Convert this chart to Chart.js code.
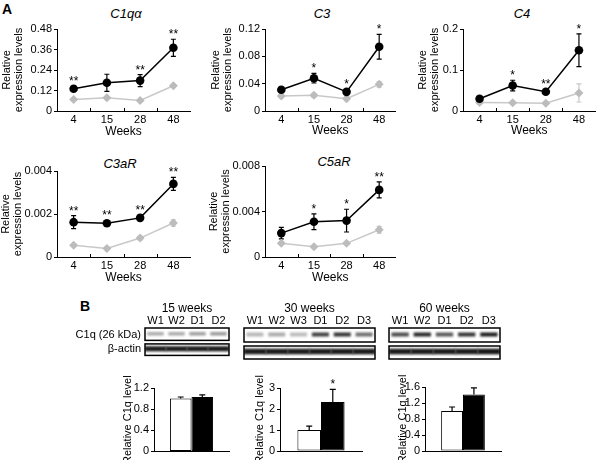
<!DOCTYPE html>
<html>
<head>
<meta charset="utf-8">
<script src="https://cdn.jsdelivr.net/npm/chart.js@4.4.1/dist/chart.umd.min.js"></script>
<style>
  html, body { margin: 0; padding: 0; background: #fff; }
  #fig { position: relative; width: 600px; height: 460px; overflow: hidden;
         font-family: "Liberation Sans", Arial, sans-serif; color: #000; background: #fff; }
  #fig canvas { position: absolute; }
  .lbl { position: absolute; transform: translate(-50%, -50%); line-height: 1; white-space: nowrap; }
  .gene { font-style: italic; font-size: 13px; }
  .panel { font-weight: bold; font-size: 14px; }
</style>
</head>
<body>
<div id="fig">
  <div class="lbl panel" style="left:7px;top:9px">A</div>
  <div class="lbl panel" style="left:85px;top:306px">B</div>
  <div class="lbl gene" style="left:126px;top:13px">C1qα</div>
  <div class="lbl gene" style="left:322px;top:13px">C3</div>
  <div class="lbl gene" style="left:522px;top:13px">C4</div>
  <div class="lbl gene" style="left:120px;top:163px">C3aR</div>
  <div class="lbl gene" style="left:334px;top:161px">C5aR</div>

  <canvas id="cC1q" width="200" height="150" style="left:0;top:0"></canvas>
  <canvas id="cC3" width="200" height="150" style="left:200px;top:0"></canvas>
  <canvas id="cC4" width="200" height="150" style="left:400px;top:0"></canvas>
  <canvas id="cC3aR" width="200" height="150" style="left:0;top:150px"></canvas>
  <canvas id="cC5aR" width="200" height="150" style="left:200px;top:150px"></canvas>

  <canvas id="cBlot15" width="175" height="68" style="left:60px;top:298px"></canvas>
  <canvas id="cBlot30" width="140" height="68" style="left:240px;top:298px"></canvas>
  <canvas id="cBlot60" width="120" height="68" style="left:385px;top:298px"></canvas>

  <canvas id="cB15" width="135" height="90" style="left:100px;top:370px"></canvas>
  <canvas id="cB30" width="140" height="90" style="left:230px;top:370px"></canvas>
  <canvas id="cB60" width="135" height="90" style="left:375px;top:370px"></canvas>
</div>
<script>
// ---- data (A: mRNA, black = db/db, grey = control) ----
const weeks = ['4', '15', '28', '48'];

const c1qDb = [0.13, 0.165, 0.178, 0.37];
const c1qDbErr = [0.01, 0.05, 0.035, 0.05];
const c1qWt = [0.068, 0.078, 0.062, 0.148];
const c1qWtErr = [0.006, 0.008, 0.005, 0.008];
const c1qStars = ['**', '', '**', '**'];
const c1qTicks = ['0', '0.12', '0.24', '0.36', '0.48'];

const c3Db = [0.031, 0.048, 0.028, 0.094];
const c3DbErr = [0.003, 0.007, 0.003, 0.018];
const c3Wt = [0.022, 0.023, 0.018, 0.039];
const c3WtErr = [0.003, 0.003, 0.003, 0.004];
const c3Stars = ['', '*', '*', '*'];
const c3Ticks = ['0', '0.04', '0.08', '0.12'];

const c4Db = [0.03, 0.062, 0.047, 0.148];
const c4DbErr = [0.005, 0.013, 0.004, 0.04];
const c4Wt = [0.021, 0.02, 0.019, 0.044];
const c4WtErr = [0.003, 0.003, 0.003, 0.022];
const c4Stars = ['', '*', '**', '*'];
const c4Ticks = ['0', '0.1', '0.2'];

const c3aRDb = [0.00162, 0.00157, 0.00182, 0.0034];
const c3aRDbErr = [0.0003, 0.00012, 0.00012, 0.0003];
const c3aRWt = [0.00055, 0.0004, 0.00088, 0.00158];
const c3aRWtErr = [0.00005, 0.00005, 0.00008, 0.00015];
const c3aRStars = ['**', '**', '**', '**'];
const c3aRTicks = ['0', '0.002', '0.004'];

const c5aRDb = [0.0021, 0.0031, 0.0032, 0.0059];
const c5aRDbErr = [0.0005, 0.0007, 0.001, 0.0007];
const c5aRWt = [0.0012, 0.0009, 0.0012, 0.0024];
const c5aRWtErr = [0.0001, 0.0001, 0.0001, 0.0003];
const c5aRStars = ['', '*', '*', '**'];
const c5aRTicks = ['0', '0.004', '0.008'];

// ---- data (B: western blots) ----
const blotRowLabels = ['C1q (26 kDa)', 'β-actin'];
const lanes15 = ['W1', 'W2', 'D1', 'D2'];
const lanes30 = ['W1', 'W2', 'W3', 'D1', 'D2', 'D3'];
const lanes60 = ['W1', 'W2', 'D1', 'D2', 'D3'];
const c1qBand15 = [0.35, 0.35, 0.4, 0.42];
const c1qBand30 = [0.3, 0.35, 0.28, 0.8, 0.85, 0.6];
const c1qBand60 = [0.75, 0.9, 0.7, 0.85, 0.95];
const actinBand15 = [0.95, 0.95, 0.95, 0.95];
const actinBand30 = [0.95, 0.95, 0.95, 0.95, 0.95, 0.95];
const actinBand60 = [0.95, 0.95, 0.95, 0.95, 0.97];

// relative C1q protein: [control, db/db]
const protein15 = [1.0, 1.03];
const protein15Err = [0.03, 0.04];
const protein15Stars = ['', ''];
const protein15Ticks = ['0', '0.4', '0.8', '1.2'];
const protein30 = [1.0, 2.33];
const protein30Err = [0.18, 0.6];
const protein30Stars = ['', '*'];
const protein30Ticks = ['0', '1', '2', '3'];
const protein60 = [1.0, 1.41];
const protein60Err = [0.1, 0.17];
const protein60Stars = ['', ''];
const protein60Ticks = ['0', '0.4', '0.8', '1.2', '1.6'];

Chart.defaults.font.family = "'Liberation Sans', Arial, Helvetica, sans-serif";
Chart.defaults.font.size = 11;
Chart.defaults.color = '#000';
Chart.defaults.animation = false;
Chart.defaults.plugins.legend.display = false;
Chart.defaults.plugins.tooltip.enabled = false;

// y axis built straight from a list of tick labels
function valueAxis(labels, title, titleFont, titlePad, width) {
    return {
        min: 0,
        max: parseFloat(labels[labels.length - 1]),
        afterBuildTicks: s => { s.ticks = labels.map(t => ({ value: parseFloat(t) })); },
        ticks: { autoSkip: false, padding: 2, callback: (v, i) => labels[i] },
        grid: { drawOnChartArea: false, tickLength: 3, color: '#000' },
        border: { color: '#000', width: 1 },
        title: { display: true, text: title, font: titleFont, padding: { top: titlePad, bottom: 0 } },
        afterFit: s => { s.width = width; }
    };
}

// error bars under the marks, stars above them
const errorBars = {
    id: 'errorBars',
    beforeDatasetsDraw(chart) {
        const ctx = chart.ctx;
        const y = chart.scales.y;
        chart.data.datasets.forEach((ds, i) => {
            if (!ds.err) return;
            const meta = chart.getDatasetMeta(i);
            ctx.save();
            ctx.strokeStyle = ds.errColor || ds.borderColor;
            ctx.lineWidth = 1.2;
            meta.data.forEach((el, j) => {
                const v = ds.data[j];
                const e = ds.err[j];
                const top = y.getPixelForValue(v + e);
                const bot = ds.upOnly ? el.y : y.getPixelForValue(v - e);
                const cap = ds.cap || 2.5;
                ctx.beginPath();
                ctx.moveTo(el.x, top);
                ctx.lineTo(el.x, bot);
                ctx.moveTo(el.x - cap, top);
                ctx.lineTo(el.x + cap, top);
                if (!ds.upOnly) {
                    ctx.moveTo(el.x - cap, bot);
                    ctx.lineTo(el.x + cap, bot);
                }
                ctx.stroke();
            });
            ctx.restore();
        });
    },
    afterDatasetsDraw(chart) {
        const ctx = chart.ctx;
        const y = chart.scales.y;
        chart.data.datasets.forEach((ds, i) => {
            if (!ds.stars) return;
            const meta = chart.getDatasetMeta(i);
            ctx.save();
            ctx.fillStyle = '#000';
            ctx.font = "12px 'Liberation Sans', Arial, sans-serif";
            ctx.textAlign = 'center';
            ctx.textBaseline = 'alphabetic';
            meta.data.forEach((el, j) => {
                const s = ds.stars[j];
                if (!s) return;
                const errTop = y.getPixelForValue(ds.data[j] + (ds.err ? ds.err[j] : 0));
                const top = Math.min(el.y - 3, errTop);
                ctx.fillText(s, el.x, top - 1);
            });
            ctx.restore();
        });
    }
};

// short tick marks pointing into the plot, between the week categories
const innerTicks = {
    id: 'innerTicks',
    afterDraw(chart) {
        const x = chart.scales.x;
        const ctx = chart.ctx;
        const b = chart.chartArea.bottom;
        ctx.save();
        ctx.strokeStyle = '#000';
        ctx.lineWidth = 1;
        for (let i = 1; i < x.ticks.length; i++) {
            const px = Math.round(x.getPixelForValue(i - 0.5)) + 0.5;
            ctx.beginPath();
            ctx.moveTo(px, b);
            ctx.lineTo(px, b - 3);
            ctx.stroke();
        }
        ctx.restore();
    }
};

function drawLine(id, db, dbErr, wt, wtErr, stars, tickLabels, box) {
    return new Chart(document.getElementById(id), {
        type: 'line',
        data: {
            labels: weeks,
            datasets: [
                { data: db, err: dbErr, stars: stars, borderColor: '#000', backgroundColor: '#000',
                  borderWidth: 1.5, pointStyle: 'circle', pointRadius: 4.3, pointBorderWidth: 0 },
                { data: wt, err: wtErr, borderColor: '#c8c8c8', backgroundColor: '#bcbcbc',
                  borderWidth: 1.5, pointStyle: 'rectRot', pointRadius: 4.5, pointBorderWidth: 0 }
            ]
        },
        options: {
            responsive: false,
            layout: { padding: { top: box.top, right: box.right, bottom: 0, left: 0 } },
            scales: {
                x: {
                    offset: true,
                    grid: { display: false, drawTicks: false },
                    border: { color: '#000', width: 1 },
                    ticks: { padding: 2, maxRotation: 0, autoSkip: false, font: { size: 11 } },
                    title: { display: true, text: 'Weeks', font: { size: 12 }, padding: { top: 0, bottom: box.xTitle } },
                    afterFit: s => { s.height = box.xh; }
                },
                y: valueAxis(tickLabels, ['Relative', 'expression levels'],
                             { size: 11, lineHeight: 1.1 }, box.yTitle, box.yw)
            }
        },
        plugins: [errorBars, innerTicks]
    });
}

drawLine('cC1q', c1qDb, c1qDbErr, c1qWt, c1qWtErr, c1qStars, c1qTicks,
    { top: 29, right: 10, yw: 57, xh: 39, yTitle: 1, xTitle: 11 });
drawLine('cC3', c3Db, c3DbErr, c3Wt, c3WtErr, c3Stars, c3Ticks,
    { top: 29, right: 2, yw: 65, xh: 39, yTitle: 10, xTitle: 12 });
drawLine('cC4', c4Db, c4DbErr, c4Wt, c4WtErr, c4Stars, c4Ticks,
    { top: 29, right: 2, yw: 63, xh: 39, yTitle: 17, xTitle: 12 });
drawLine('cC3aR', c3aRDb, c3aRDbErr, c3aRWt, c3aRWtErr, c3aRStars, c3aRTicks,
    { top: 21, right: 10, yw: 57, xh: 43, yTitle: 0, xTitle: 15 });
drawLine('cC5aR', c5aRDb, c5aRDbErr, c5aRWt, c5aRWtErr, c5aRStars, c5aRTicks,
    { top: 16, right: 2, yw: 65, xh: 43, yTitle: 8, xTitle: 15 });

// blot frames: y units are ~1px, C1q box on top, actin box below
const blotBoxes = [[17, 31], [0, 13]];
const blotFrames = {
    id: 'blotFrames',
    beforeDatasetsDraw(chart) {
        chart.ctx.save();
        chart.ctx.filter = 'blur(0.9px)';
    },
    afterDatasetsDraw(chart) {
        const { ctx, chartArea: a, scales: { y } } = chart;
        ctx.restore();
        ctx.save();
        ctx.strokeStyle = '#000';
        ctx.lineWidth = 1.5;
        blotBoxes.forEach(([lo, hi]) => {
            const t = y.getPixelForValue(hi);
            const b = y.getPixelForValue(lo);
            ctx.strokeRect(a.left, t, a.right - a.left, b - t);
        });
        ctx.restore();
    }
};

function drawBlot(id, title, lanes, c1q, actin, pad, showRows) {
    const shade = arr => arr.map(c => 'rgba(15,15,15,' + c + ')');
    const scales = {
        x: {
            position: 'top',
            grid: { display: false, drawTicks: false },
            border: { display: false },
            ticks: { padding: 0, maxRotation: 0, autoSkip: false, font: { size: 11 } },
            title: { display: true, text: title, font: { size: 12 }, padding: { top: 3, bottom: 0 } },
            afterFit: s => { s.height = 30; }
        },
        y: { display: false, min: 0, max: 31 }
    };
    if (showRows) {
        scales.rows = {
            type: 'category',
            labels: blotRowLabels,
            position: 'left',
            offset: true,
            grid: { display: false, drawTicks: false },
            border: { display: false },
            ticks: { padding: 4, autoSkip: false, font: { size: 11 } },
            afterFit: s => { s.width = 85; }
        };
    }
    return new Chart(document.getElementById(id), {
        type: 'bar',
        data: {
            labels: lanes,
            datasets: [
                { data: lanes.map(() => [22.5, 26.5]), backgroundColor: shade(c1q), grouped: false,
                  barPercentage: 0.78, categoryPercentage: 1, borderWidth: 0 },
                { data: lanes.map(() => [5, 10]), backgroundColor: shade(actin), grouped: false,
                  barPercentage: 1, categoryPercentage: 1, borderWidth: 0 }
            ]
        },
        options: {
            responsive: false,
            layout: { padding: { top: 0, bottom: 7, left: pad.left, right: pad.right } },
            scales: scales
        },
        plugins: [blotFrames]
    });
}

drawBlot('cBlot15', '15 weeks', lanes15, c1qBand15, actinBand15, { left: 0, right: 6 }, true);
drawBlot('cBlot30', '30 weeks', lanes30, c1qBand30, actinBand30, { left: 4, right: 5 }, false);
drawBlot('cBlot60', '60 weeks', lanes60, c1qBand60, actinBand60, { left: 4, right: 5 }, false);

function drawBars(id, vals, errs, stars, tickLabels, box) {
    const common = { upOnly: true, cap: 3, errColor: '#000', borderColor: '#000', borderWidth: 1,
                     borderSkipped: false, barPercentage: 1, categoryPercentage: 0.575 };
    return new Chart(document.getElementById(id), {
        type: 'bar',
        data: {
            labels: [''],
            datasets: [
                Object.assign({ data: [vals[0]], err: [errs[0]], stars: [stars[0]], backgroundColor: '#fff' }, common),
                Object.assign({ data: [vals[1]], err: [errs[1]], stars: [stars[1]], backgroundColor: '#000' }, common)
            ]
        },
        options: {
            responsive: false,
            layout: { padding: { top: box.top, right: box.right, bottom: 0, left: 0 } },
            scales: {
                x: {
                    grid: { display: false, drawTicks: false },
                    border: { color: '#000', width: 1 },
                    ticks: { display: false },
                    afterFit: s => { s.height = box.xh; }
                },
                y: valueAxis(tickLabels, 'Relative C1q level', { size: 11 }, box.yTitle, box.yw)
            }
        },
        plugins: [errorBars]
    });
}

drawBars('cB15', protein15, protein15Err, protein15Stars, protein15Ticks,
    { top: 18, right: 6, yw: 54, xh: 8, yTitle: 21 });
drawBars('cB30', protein30, protein30Err, protein30Stars, protein30Ticks,
    { top: 18, right: 8, yw: 50, xh: 9, yTitle: 23 });
drawBars('cB60', protein60, protein60Err, protein60Stars, protein60Ticks,
    { top: 17, right: 9, yw: 50, xh: 9, yTitle: 21 });
</script>
</body>
</html>
